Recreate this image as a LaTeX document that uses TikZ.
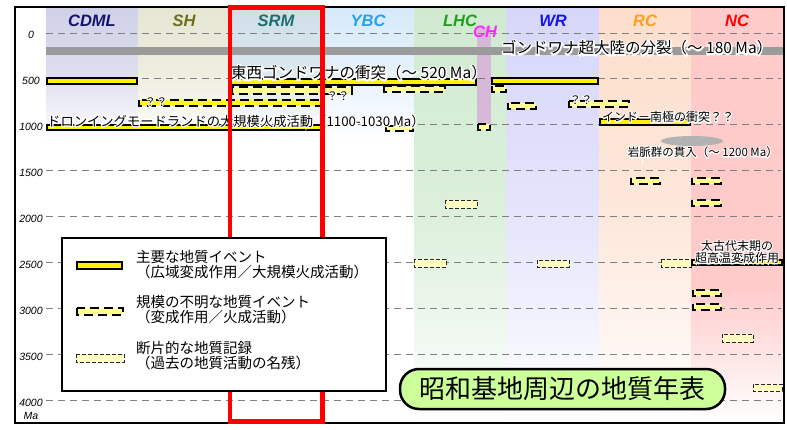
\documentclass[tikz,border=0pt]{standalone}
\usepackage{fontspec}
\setmainfont{Noto Sans CJK JP}
\newfontfamily\halofont[FakeBold=18]{Noto Sans CJK JP}
\newfontfamily\lat{Liberation Sans}
\definecolor{cCDML}{RGB}{208,208,232}
\definecolor{cSH}{RGB}{230,230,212}
\definecolor{cSRM}{RGB}{206,222,232}
\definecolor{cYBC}{RGB}{214,234,250}
\definecolor{cLHC}{RGB}{208,234,208}
\definecolor{cWR}{RGB}{214,214,250}
\definecolor{cRC}{RGB}{253,222,204}
\definecolor{cNC}{RGB}{255,202,202}
\definecolor{cCH}{RGB}{216,184,216}
\definecolor{tCDML}{RGB}{20,20,110}
\definecolor{tSH}{RGB}{110,110,30}
\definecolor{tSRM}{RGB}{30,110,110}
\definecolor{tYBC}{RGB}{40,160,240}
\definecolor{tLHC}{RGB}{30,160,30}
\definecolor{tWR}{RGB}{20,20,240}
\definecolor{tRC}{RGB}{255,160,30}
\definecolor{tNC}{RGB}{255,0,0}
\definecolor{tCH}{RGB}{255,40,255}
\definecolor{uyel}{RGB}{255,255,150}
\definecolor{fyel}{RGB}{255,255,195}
\definecolor{tgreen}{RGB}{204,255,153}
\definecolor{band}{RGB}{155,155,155}
\newcommand\halo[1]{\rlap{\textcolor{white}{\halofont #1}}#1}
\begin{document}
\begin{tikzpicture}[x=1pt,y=-1pt,
 major/.style={draw=black,line width=2pt,fill=yellow},
 uncert/.style={draw=black,line width=2.2pt,dash pattern=on 9pt off 5pt,fill=uyel},
 uncertb/.style={uncert,fill=yellow!85!white},
 frag/.style={draw=black!85,line width=0.8pt,dash pattern=on 4pt off 2pt,fill=fyel},
 gridl/.style={draw=gray,line width=0.9pt,dash pattern=on 7pt off 5pt},
 hdr/.style={font=\lat\bfseries\itshape\fontsize{16.5}{16.5}\selectfont,inner sep=0},
 ax/.style={font=\lat\itshape\fontsize{10.5}{10.5}\selectfont,inner sep=0},
 lab/.style={inner sep=0,font=\fontsize{15.5}{15.5}\selectfont},
 labs/.style={inner sep=0,font=\fontsize{12}{12}\selectfont},
 legt/.style={inner sep=0,anchor=west,font=\fontsize{14.5}{14.5}\selectfont}]
\useasboundingbox (0,0) rectangle (787,430);
\fill[white] (0,0) rectangle (787,430);
% column backgrounds
\shade[top color=cCDML, bottom color=white, middle color=cCDML!70] (46,7) rectangle (138.1,142);
\shade[top color=cSH, bottom color=white, middle color=cSH!70] (138.1,7) rectangle (230.3,142);
\shade[top color=cSRM, bottom color=white, middle color=cSRM!70] (230.3,7) rectangle (322.4,142);
\shade[top color=cYBC, bottom color=white, middle color=cYBC!60] (322.4,7) rectangle (414.5,142);
\shade[top color=cLHC, bottom color=white, middle color=cLHC!75] (414.5,7) rectangle (506.6,423);
\shade[top color=cWR, bottom color=white, middle color=cWR!65] (506.6,7) rectangle (598.8,423);
\shade[top color=cRC, bottom color=white, middle color=cRC!70] (598.8,7) rectangle (690.9,423);
\fill[cNC] (690.9,7) rectangle (783,285);
\shade[top color=cNC, bottom color=white] (690.9,284.5) rectangle (783,423);
% CH stripe
\fill[cCH] (477,27) rectangle (491,128);
% grid
\foreach \t in {0,500,...,4000}{
  \draw[gridl] (46,{33+\t*0.0919}) -- (781,{33+\t*0.0919});
  \node[ax] (ax\t) at (31,{35+\t*0.0919}) {\t};
}
\node[ax] (axMa) at (31,416) {Ma};
% headers
\node[hdr,text=tCDML] (hCDML) at (92,21) {CDML};
\node[hdr,text=tSH] (hSH) at (184,21) {SH};
\node[hdr,text=tSRM] (hSRM) at (276,21) {SRM};
\node[hdr,text=tYBC] (hYBC) at (368,21) {YBC};
\node[hdr,text=tLHC] (hLHC) at (460,21) {LHC};
\node[hdr,text=tWR] (hWR) at (553,21) {WR};
\node[hdr,text=tRC] (hRC) at (645,21) {RC};
\node[hdr,text=tNC] (hNC) at (737,21) {NC};
\node[hdr,text=tCH] (hCH) at (485,32) {CH};
% Gondwana break-up band
\fill[band] (46,47) rectangle (783,55);
% dike swarm
\fill[gray!60] (692,141) ellipse [x radius=31pt, y radius=5pt];
% uncertain events
\draw[uncert] (232,87) rectangle (352,94);
\draw[uncertb] (139,100) rectangle (321,106);
\draw[uncert] (384,86) rectangle (445,92);
\draw[uncert] (492,86) rectangle (506,92);
\draw[uncert] (508,103) rectangle (536,109);
\draw[uncert] (569,101) rectangle (629,107);
\draw[uncert] (478,124) rectangle (490,130);
\draw[uncert] (386,126) rectangle (413,131);
\draw[uncert] (631,178) rectangle (660,184);
\draw[uncert] (692,178) rectangle (721,184);
\draw[uncert] (692,200) rectangle (721,206);
\draw[uncert] (693,290) rectangle (721,296);
\draw[uncert] (693,304) rectangle (721,310);
% fragmentary records
\draw[frag] (445,200) rectangle (477,208);
\draw[frag] (414,259) rectangle (446,267);
\draw[frag] (537,260) rectangle (569,267);
\draw[frag] (661,259) rectangle (691,267);
\draw[frag] (722,334) rectangle (753,342);
\draw[frag] (753,384) rectangle (782,391);
% major events
\draw[major] (47,78) rectangle (137,84);
\draw[major] (231,79) rectangle (476,85);
\draw[major] (492,78) rectangle (598,84);
\draw[major] (47,125) rectangle (321,130);
\draw[major] (600,119) rectangle (690,125);
\draw[major] (692,260) rectangle (782,265);
% labels
\node[lab,anchor=west] (tGB) at (501,48) {\halo{ゴンドワナ超大陸の分裂（～ 180 Ma）}};
\node[lab,anchor=west] (tEW) at (231,73) {\halo{東西ゴンドワナの衝突（～ 520 Ma）}};
\node[inner sep=0,anchor=west,font=\fontsize{13.3}{13.3}\selectfont] (tDML) at (47,121) {\halo{ドロンイングモードランドの大規模火成活動（1100-1030 Ma）}};
\node[labs,anchor=west] (tIA) at (602,117) {\halo{インド－南極の衝突？？}};
\node[inner sep=0,anchor=east,font=\fontsize{11.5}{11.5}\selectfont] (tDK) at (778,152) {\halo{岩脈群の貫入（～ 1200 Ma）}};
\node[labs,align=center] (tAR) at (737,252) {\halo{太古代末期の}\\\halo{超高温変成作用}};
\node[inner sep=0,font=\fontsize{11.5}{11.5}\selectfont] (q1) at (156,102) {\halo{？？}};
\node[inner sep=0,font=\fontsize{11.5}{11.5}\selectfont] (q2) at (338,96) {\halo{？？}};
\node[inner sep=0,font=\fontsize{11.5}{11.5}\selectfont] (q3) at (581,100) {\halo{？？}};
% frame
\draw[line width=2.5pt] (15,7) rectangle (784,423);
% red box
\draw[red,line width=4.3pt] (230.3,7.5) rectangle (322.4,421.5);
% legend
\draw[line width=2.5pt,fill=white] (62,238) rectangle (386,391);
\draw[major] (77,262) rectangle (122,269);
\draw[uncert] (77,308) rectangle (123,315);
\draw[frag] (76,354) rectangle (124,362);
\node[legt] (l1a) at (136,257) {主要な地質イベント};
\node[legt] (l1b) at (136,272) {（広域変成作用／大規模火成活動）};
\node[legt] (l2a) at (136,302) {規模の不明な地質イベント};
\node[legt] (l2b) at (136,317) {（変成作用／火成活動）};
\node[legt] (l3a) at (136,348) {断片的な地質記録};
\node[legt] (l3b) at (136,363) {（過去の地質活動の名残）};
% title
\node[draw=black,line width=2.5pt,fill=tgreen,rounded corners=19pt,minimum width=325pt,minimum height=40pt,inner sep=0,font=\fontsize{26}{26}\selectfont] (title) at (562.5,389) {昭和基地周辺の地質年表};
\end{tikzpicture}
\end{document}
